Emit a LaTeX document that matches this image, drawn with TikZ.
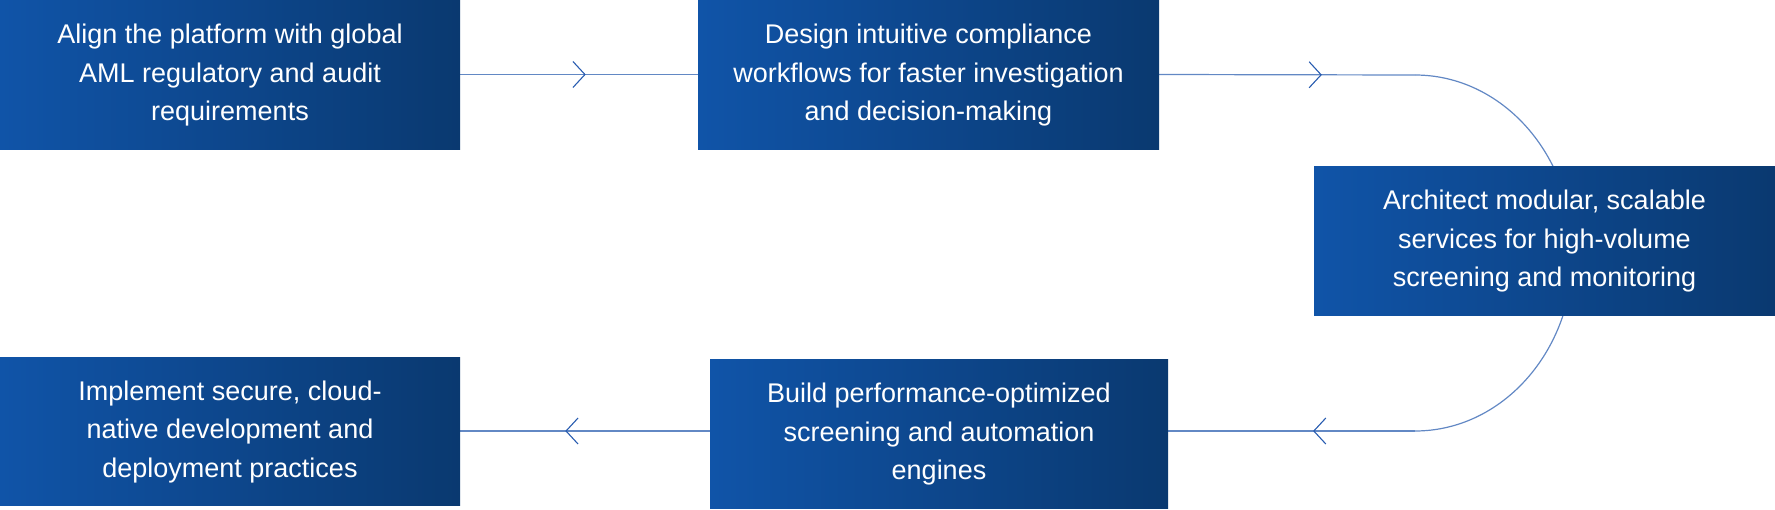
\documentclass[tikz,border=0pt]{standalone}
\usepackage{fontspec}
\setmainfont{Liberation Sans}
\usetikzlibrary{decorations.markings}
\pgfdeclarelayer{background}
\pgfsetlayers{background,main}
\definecolor{boxleft}{RGB}{16,84,168}
\definecolor{boxright}{RGB}{10,57,112}
\definecolor{linecol}{RGB}{98,136,196}
\definecolor{headcol}{RGB}{40,92,176}
\newcommand{\stepText}[1]{\raisebox{-4pt}{\begin{tabular}{@{}c@{}}#1\end{tabular}}}
\tikzset{
  stepbox/.style={minimum height=149pt, inner sep=0pt, left color=boxleft, right color=boxright,
    text=white, font=\fontsize{27}{38.5}\selectfont},
  conn/.style={draw=linecol, line width=1.2pt},
  chev/.style={postaction={decorate, decoration={markings, mark=at position #1 with
    {\draw[headcol, line width=1.1pt, line join=miter] (-12,-13) -- (0,0) -- (-12,13);}}}}
}
\begin{document}
\begin{tikzpicture}[x=1pt,y=-1pt]
\useasboundingbox (0,0) rectangle (1775,509);
\node[stepbox, minimum width=460pt] (b1) at (230,74.5) {\stepText{Align the platform with global\\AML regulatory and audit\\requirements}};
\node[stepbox, minimum width=461pt] (b2) at (928.5,74.5) {\stepText{Design intuitive compliance\\workflows for faster investigation\\and decision-making}};
\node[stepbox, minimum width=461pt] (b3) at (1544.5,240.5) {\stepText{Architect modular, scalable\\services for high-volume\\screening and monitoring}};
\node[stepbox, minimum width=458pt] (b4) at (939,433.5) {\stepText{Build performance-optimized\\screening and automation\\engines}};
\node[stepbox, minimum width=460pt, minimum height=148pt] (b5) at (230,431) {\stepText{Implement secure, cloud-\\native development and\\deployment practices}};
\coordinate (c1) at (1415,75);
\coordinate (c2) at (1415,431);
\begin{pgfonlayer}{background}
\draw[conn, chev=0.525] (b1.east) -- (b2.west);
\draw[conn, chev=0.633] (b2.east) -- (c1);
\draw[conn] (c1) .. controls (1502.2,75) and (1573,154.7) .. (1573,253)
  .. controls (1573,351.3) and (1502.2,431) .. (c2);
\draw[conn, chev=0.41] (c2) -- (b4.east |- c2);
\draw[conn, chev=0.576] (b4.west |- c2) -- (b5.east |- c2);
\end{pgfonlayer}
\end{tikzpicture}
\end{document}
